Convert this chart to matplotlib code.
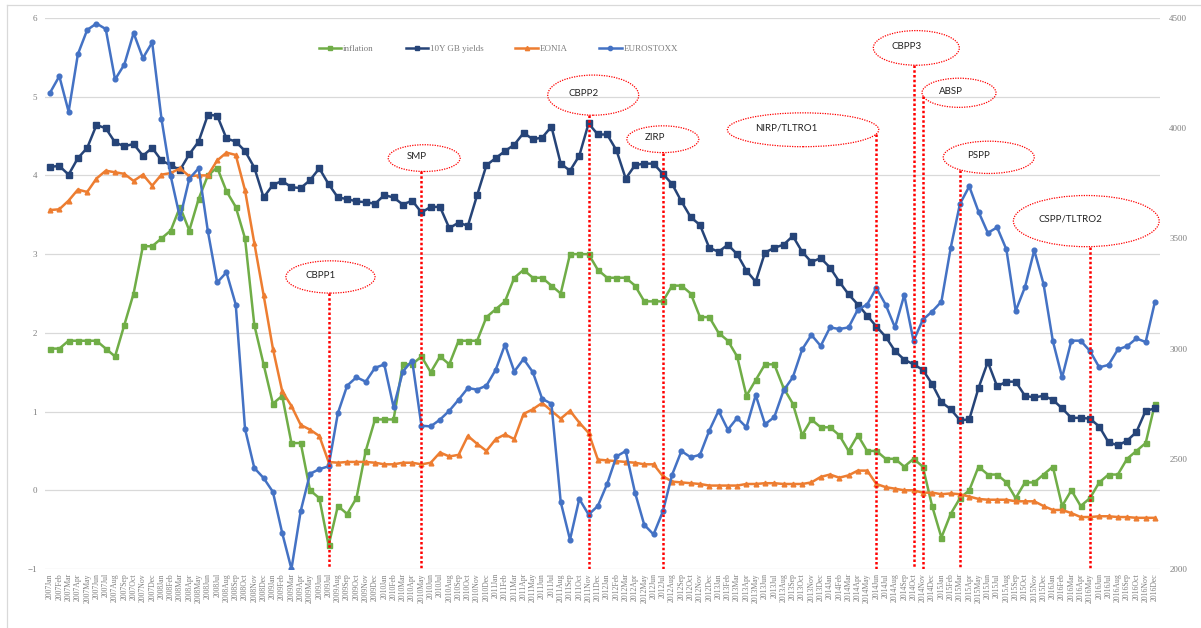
import matplotlib
matplotlib.use("Agg")
import matplotlib.pyplot as plt
from matplotlib.patches import Ellipse
from matplotlib.lines import Line2D
import numpy as np

# ---------------- data ----------------
years = list(range(2007, 2017))
month_names = ["Jan", "Feb", "Mar", "Apr", "May", "Jun",
               "Jul", "Aug", "Sep", "Oct", "Nov", "Dec"]
months = [f"{y}{m}" for y in years for m in month_names]

inflation = [
    1.8, 1.8, 1.9, 1.9, 1.9, 1.9, 1.8, 1.7, 2.1, 2.5, 3.1, 3.1,
    3.2, 3.3, 3.6, 3.3, 3.7, 4.0, 4.1, 3.8, 3.6, 3.2, 2.1, 1.6,
    1.1, 1.2, 0.6, 0.6, 0.0, -0.1, -0.7, -0.2, -0.3, -0.1, 0.5, 0.9,
    0.9, 0.9, 1.6, 1.6, 1.7, 1.5, 1.7, 1.6, 1.9, 1.9, 1.9, 2.2,
    2.3, 2.4, 2.7, 2.8, 2.7, 2.7, 2.6, 2.5, 3.0, 3.0, 3.0, 2.8,
    2.7, 2.7, 2.7, 2.6, 2.4, 2.4, 2.4, 2.6, 2.6, 2.5, 2.2, 2.2,
    2.0, 1.9, 1.7, 1.2, 1.4, 1.6, 1.6, 1.3, 1.1, 0.7, 0.9, 0.8,
    0.8, 0.7, 0.5, 0.7, 0.5, 0.5, 0.4, 0.4, 0.3, 0.4, 0.3, -0.2,
    -0.6, -0.3, -0.1, 0.0, 0.3, 0.2, 0.2, 0.1, -0.1, 0.1, 0.1, 0.2,
    0.3, -0.2, 0.0, -0.2, -0.1, 0.1, 0.2, 0.2, 0.4, 0.5, 0.6, 1.1]

gb10y = [
    4.11, 4.12, 4.01, 4.22, 4.35, 4.64, 4.60, 4.42, 4.37, 4.40, 4.25, 4.35,
    4.19, 4.13, 4.07, 4.27, 4.43, 4.77, 4.76, 4.47, 4.43, 4.31, 4.10, 3.72,
    3.88, 3.93, 3.85, 3.84, 3.94, 4.09, 3.89, 3.72, 3.70, 3.67, 3.66, 3.64,
    3.75, 3.72, 3.63, 3.68, 3.53, 3.60, 3.60, 3.33, 3.40, 3.36, 3.75, 4.13,
    4.22, 4.31, 4.39, 4.54, 4.46, 4.48, 4.62, 4.15, 4.06, 4.25, 4.66, 4.52,
    4.52, 4.32, 3.96, 4.13, 4.15, 4.15, 4.02, 3.89, 3.67, 3.47, 3.37, 3.08,
    3.03, 3.12, 3.00, 2.79, 2.65, 3.02, 3.08, 3.12, 3.23, 3.03, 2.90, 2.95,
    2.83, 2.65, 2.49, 2.36, 2.22, 2.08, 1.95, 1.77, 1.66, 1.60, 1.53, 1.35,
    1.12, 1.03, 0.89, 0.90, 1.30, 1.63, 1.32, 1.38, 1.38, 1.20, 1.18, 1.20,
    1.15, 1.04, 0.92, 0.92, 0.91, 0.81, 0.61, 0.57, 0.63, 0.74, 1.01, 1.04]

eonia = [
    3.56, 3.57, 3.68, 3.82, 3.79, 3.96, 4.06, 4.04, 4.02, 3.93, 4.01, 3.87,
    4.01, 4.03, 4.09, 3.99, 4.00, 4.00, 4.19, 4.29, 4.26, 3.81, 3.14, 2.48,
    1.80, 1.26, 1.07, 0.83, 0.77, 0.69, 0.36, 0.35, 0.36, 0.36, 0.36, 0.35,
    0.33, 0.33, 0.35, 0.35, 0.33, 0.35, 0.48, 0.43, 0.45, 0.69, 0.59, 0.50,
    0.65, 0.71, 0.65, 0.97, 1.03, 1.11, 1.01, 0.91, 1.01, 0.86, 0.73, 0.39,
    0.38, 0.37, 0.36, 0.35, 0.33, 0.33, 0.18, 0.11, 0.10, 0.09, 0.08, 0.06,
    0.06, 0.06, 0.06, 0.08, 0.08, 0.09, 0.09, 0.08, 0.08, 0.08, 0.10, 0.17,
    0.20, 0.16, 0.19, 0.25, 0.25, 0.08, 0.04, 0.02, 0.00, 0.00, -0.03, -0.03,
    -0.05, -0.04, -0.05, -0.08, -0.11, -0.12, -0.12, -0.12, -0.14, -0.14, -0.14, -0.20,
    -0.25, -0.25, -0.29, -0.34, -0.34, -0.33, -0.33, -0.34, -0.34, -0.35, -0.35, -0.35]

eurostoxx = [
    4161, 4236, 4075, 4336, 4446, 4475, 4450, 4221, 4289, 4432, 4318, 4389,
    4043, 3782, 3593, 3771, 3818, 3532, 3300, 3346, 3200, 2636, 2458, 2413,
    2350, 2164, 2000, 2264, 2432, 2453, 2466, 2707, 2832, 2870, 2850, 2913,
    2928, 2734, 2896, 2946, 2650, 2647, 2678, 2718, 2768, 2821, 2814, 2832,
    2904, 3018, 2896, 2953, 2893, 2772, 2750, 2304, 2133, 2318, 2247, 2286,
    2386, 2511, 2535, 2347, 2200, 2157, 2261, 2428, 2535, 2507, 2518, 2628,
    2718, 2632, 2685, 2643, 2789, 2657, 2689, 2810, 2870, 2996, 3062, 3012,
    3096, 3089, 3096, 3177, 3200, 3275, 3199, 3096, 3243, 3035, 3131, 3168,
    3213, 3457, 3657, 3736, 3621, 3525, 3550, 3450, 3171, 3279, 3446, 3293,
    3035, 2869, 3036, 3036, 2989, 2915, 2926, 2996, 3011, 3046, 3030, 3213]

events = ["CBPP1", "SMP", "CBPP2", "ZIRP", "NIRP/TLTRO1",
          "CBPP3", "ABSP", "PSPP", "CSPP/TLTRO2"]
event_months = ["2009Jul", "2010May", "2011Nov", "2012Jul", "2014Jun",
                "2014Oct", "2014Nov", "2015Mar", "2016May"]

# ---------------- layout (label bubbles: centre x [months], centre y, width, height) ----
bubble_layout = {
    "CBPP1": (30.2, 2.71, 9.6, 0.41),
    "SMP": (40.3, 4.22, 7.75, 0.34),
    "CBPP2": (58.5, 5.02, 9.8, 0.51),
    "ZIRP": (66.0, 4.46, 7.75, 0.34),
    "NIRP/TLTRO1": (81.1, 4.58, 16.3, 0.43),
    "CBPP3": (93.3, 5.62, 9.26, 0.44),
    "ABSP": (97.9, 5.05, 7.97, 0.37),
    "PSPP": (101.1, 4.23, 9.8, 0.41),
    "CSPP/TLTRO2": (111.6, 3.42, 15.7, 0.65),
}

C_INF = "#70AD47"
C_GB = "#264478"
C_EON = "#ED7D31"
C_ES = "#4472C4"
GRID = "#d9d9d9"
TXT = "#7f7f7f"
SERIF = ["Liberation Serif", "DejaVu Serif"]

W, H = 1201, 628
fig = plt.figure(figsize=(W / 100, H / 100), dpi=100)
left, right, top, bottom = 45.4, 1159.6, 18, 569
ax = fig.add_axes([left / W, (H - bottom) / H, (right - left) / W, (bottom - top) / H])

x = np.arange(len(months))
l1, = ax.plot(x, inflation, color=C_INF, marker="s", ms=3.6, lw=1.8, label="inflation")
l2, = ax.plot(x, gb10y, color=C_GB, marker="s", ms=3.8, lw=1.8, label="10Y GB yields")
l3, = ax.plot(x, eonia, color=C_EON, marker="^", ms=3.4, lw=1.8, label="EONIA")

ax.set_xlim(-0.5, len(months) - 0.5)
ax.set_ylim(-1, 6)
ax.set_yticks(range(-1, 7))
ax.grid(axis="y", color=GRID, lw=0.9)
ax.set_axisbelow(True)
ax.set_xticks(x)
ax.set_xticklabels(months, rotation=90, fontsize=5.6, color=TXT, family=SERIF)
for lab in ax.get_yticklabels():
    lab.set_fontsize(6.5)
    lab.set_color(TXT)
    lab.set_family(SERIF)
ax.tick_params(axis="both", length=0)
ax.tick_params(axis="y", pad=6)
ax.tick_params(axis="x", pad=3)
for s in ax.spines.values():
    s.set_visible(False)

ax2 = ax.twinx()
l4, = ax2.plot(x, eurostoxx, color=C_ES, marker="o", ms=3.4, lw=1.8, label="EUROSTOXX")
ax2.set_ylim(2000, 4500)
ax2.set_yticks(range(2000, 4501, 500))
for lab in ax2.get_yticklabels():
    lab.set_fontsize(6.5)
    lab.set_color(TXT)
    lab.set_family(SERIF)
ax2.tick_params(axis="y", length=0, pad=7)
for s in ax2.spines.values():
    s.set_visible(False)

# event markers
for name, mon in zip(events, event_months):
    xi = months.index(mon)
    cx, cy, w, h = bubble_layout[name]
    dx = (xi - cx) / (w / 2)
    top_y = cy - (h / 2) * np.sqrt(max(0.0, 1 - dx * dx))
    ax2.add_line(Line2D([xi, xi], [top_y, -1], transform=ax.transData,
                        color="#FF0000", lw=1.8, linestyle=(0, (1, 0.9)), zorder=5))
    ax2.add_patch(Ellipse((cx, cy), w, h, transform=ax.transData, fill=False,
                          edgecolor="#FF0000", lw=0.9, linestyle=(0, (1, 1)), zorder=5))
    ax2.text(cx - w * 0.11, cy + h * 0.05, name, transform=ax.transData,
             ha="center", va="center", fontsize=7, family=["Lato", "DejaVu Sans"],
             color="#222222", zorder=6)

leg = ax2.legend([l1, l2, l3, l4], [l.get_label() for l in (l1, l2, l3, l4)],
                 loc="center", bbox_to_anchor=((498.5 - left) / (right - left),
                                                (bottom - 49) / (bottom - top)),
                 ncol=4, frameon=False, handlelength=2.5, handletextpad=0.2,
                 columnspacing=3.5, markerscale=0.9,
                 prop={"family": SERIF, "size": 6.5})
for t in leg.get_texts():
    t.set_color(TXT)

# outer chart frame
fig.add_artist(Line2D([7 / W, 7 / W], [0, (H - 5) / H], transform=fig.transFigure,
                      color=GRID, lw=0.9))
fig.add_artist(Line2D([7 / W, 1], [(H - 5) / H, (H - 5) / H], transform=fig.transFigure,
                      color=GRID, lw=0.9))

fig.savefig("out.png", dpi=100)
